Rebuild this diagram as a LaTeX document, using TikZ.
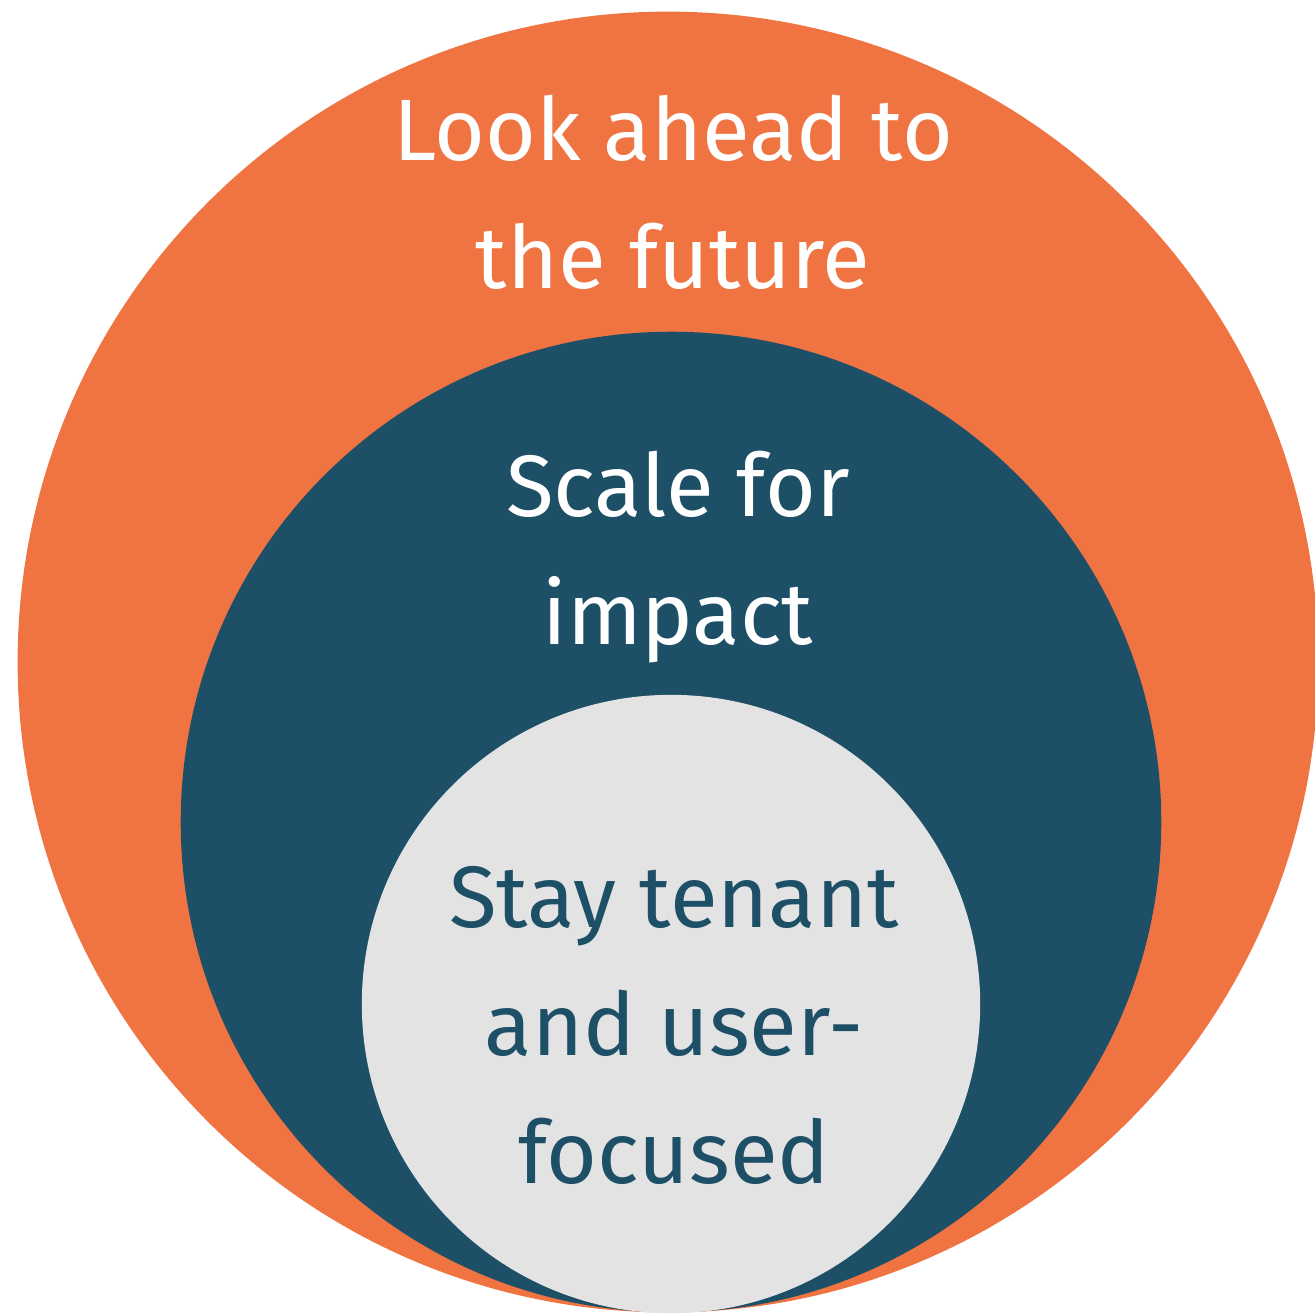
\documentclass[tikz,border=0pt]{standalone}
\usepackage{fontspec}
\setmainfont{Fira Sans}
\definecolor{ringorange}{HTML}{F07442}
\definecolor{ringblue}{HTML}{1D4F66}
\definecolor{ringgray}{HTML}{E3E3E3}
\tikzstyle{ring} = [circle, inner sep=0pt, draw=none]
\tikzstyle{ringtext} = [inner sep=0pt, align=center, font=\fontsize{24.8}{36.4}\selectfont]
\begin{document}
\begin{tikzpicture}[x=0.01cm, y=-0.01cm]
\useasboundingbox (0,0) rectangle (1315,1315);
\clip (0,0) rectangle (1315,1315);
\node (outer) [ring, fill=ringorange, minimum size=13cm] at (668,662) {};
\node (middle) [ring, fill=ringblue, minimum size=9.8cm] at (671,822) {};
\node (inner) [ring, fill=ringgray, minimum size=6.18cm] at (671,1004) {};

\node (outer_text) [ringtext, text=white] at (673,192) {Look ahead to\\the future};
\node (middle_text) [ringtext, text=white] at (678,557) {Scale for\\impact};
\node (inner_text) [ringtext, text=ringblue] at (674,1025) {Stay tenant\\and user-\\focused};
\end{tikzpicture}
\end{document}
